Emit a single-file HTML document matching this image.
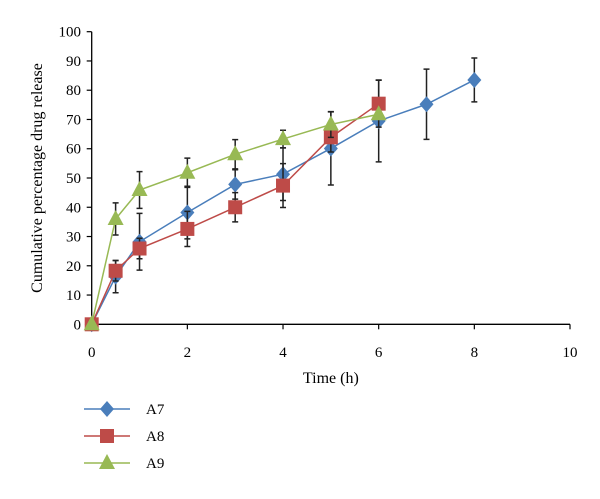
<!DOCTYPE html>
<html><head><meta charset="utf-8"><style>
body{margin:0;background:#fff;}
svg text{font-family:"Liberation Serif",serif;fill:#000;}
</style></head><body>
<svg width="600" height="494" xmlns="http://www.w3.org/2000/svg">
<g id="axes"></g><g id="plot"></g><g id="legend"></g>
</svg>
<script>
const times7=[0,0.5,1,2,3,4,5,6,7,8];
const a7=[0,16.3,28.2,38.2,47.8,51.3,60.1,69.5,75.2,83.5];
const a7err=[0,5.5,9.7,9,5,9,12.5,14,12,7.5];
const times8=[0,0.5,1,2,3,4,5,6];
const a8=[0,18.3,25.9,32.6,40,47.4,63.9,75.4];
const a8err=[0,3.5,3.5,6,5,7.5,5,8];
const times9=[0,0.5,1,2,3,4,5,6];
const a9=[0,36,45.9,51.8,58.1,63.3,68.3,71.8];
const a9err=[0,5.5,6.3,5,5,3,4.4,0];
const xTicks=[0,2,4,6,8,10];
const yTicks=[0,10,20,30,40,50,60,70,80,90,100];
const NS="http://www.w3.org/2000/svg";
const X=v=>91.7+v*47.83, Y=v=>324.3-v*2.926;
function mk(p,t,a){const e=document.createElementNS(NS,t);for(const k in a)e.setAttribute(k,a[k]);p.appendChild(e);return e;}
const ax=document.getElementById('axes'),pl=document.getElementById('plot'),lg=document.getElementById('legend');
let l=mk(ax,'line',{x1:X(0),y1:Y(0),x2:X(10),y2:Y(0),stroke:'#000','stroke-width':1.3});


l=mk(ax,'line',{x1:X(0),y1:Y(0),x2:X(0),y2:Y(100),stroke:'#000','stroke-width':1.3});


xTicks.forEach(t=>{mk(ax,'line',{x1:X(t),y1:Y(0),x2:X(t),y2:Y(0)+5,stroke:'#000','stroke-width':1.2});
const tx=mk(ax,'text',{x:X(t),y:357,'text-anchor':'middle','font-size':15});tx.textContent=t;

});
yTicks.forEach(t=>{mk(ax,'line',{x1:X(0)-5,y1:Y(t),x2:X(0),y2:Y(t),stroke:'#000','stroke-width':1.2});
const tx=mk(ax,'text',{x:81,y:Y(t)+5,'text-anchor':'end','font-size':15});tx.textContent=t;

});
let tt=mk(ax,'text',{x:X(5),y:383,'text-anchor':'middle','font-size':16});tt.textContent='Time (h)';


tt=mk(ax,'text',{x:0,y:0,'text-anchor':'middle','font-size':16,transform:'translate(42,178) rotate(-90)'});tt.textContent='Cumulative percentage drug release';


function marker(g,shape,x,y,col){
 if(shape==='d')return mk(g,'polygon',{points:`${x},${y-8} ${x+7},${y} ${x},${y+8} ${x-7},${y}`,fill:col});
 if(shape==='s')return mk(g,'rect',{x:x-7,y:y-7,width:14,height:14,fill:col});
 return mk(g,'polygon',{points:`${x},${y-9} ${x+8},${y+6} ${x-8},${y+6}`,fill:col});
}
function series(name,ts,vals,errs,col,shape){
 const g=mk(pl,'g',{});
 
 
 ts.forEach((t,i)=>{if(errs[i]>0){const x=X(t),y1=Y(vals[i]+errs[i]),y2=Y(vals[i]-errs[i]);
  mk(g,'path',{d:`M${x},${y1}V${y2}M${x-3},${y1}H${x+3}M${x-3},${y2}H${x+3}`,stroke:'#222','stroke-width':1.5,fill:'none'});}});
 mk(g,'polyline',{points:ts.map((t,i)=>X(t)+','+Y(vals[i])).join(' '),fill:'none',stroke:col,'stroke-width':1.5});
 ts.forEach((t,i)=>{const m=marker(g,shape,X(t),Y(vals[i]),col);
  
  });
}
series('a7',times7,a7,a7err,'#4a7ebb','d');
series('a8',times8,a8,a8err,'#be4b48','s');
series('a9',times9,a9,a9err,'#98b954','t');
[['A7','#4a7ebb','d',409],['A8','#be4b48','s',436],['A9','#98b954','t',463]].forEach(([n,c,s,y])=>{
 const g=mk(lg,'g',{});
 
 
 mk(g,'line',{x1:84,y1:y,x2:130,y2:y,stroke:c,'stroke-width':1.5});
 marker(g,s,107,y,c);
 const t=mk(g,'text',{x:146,y:y+5,'font-size':15});t.textContent=n;
});
</script>
</body></html>
